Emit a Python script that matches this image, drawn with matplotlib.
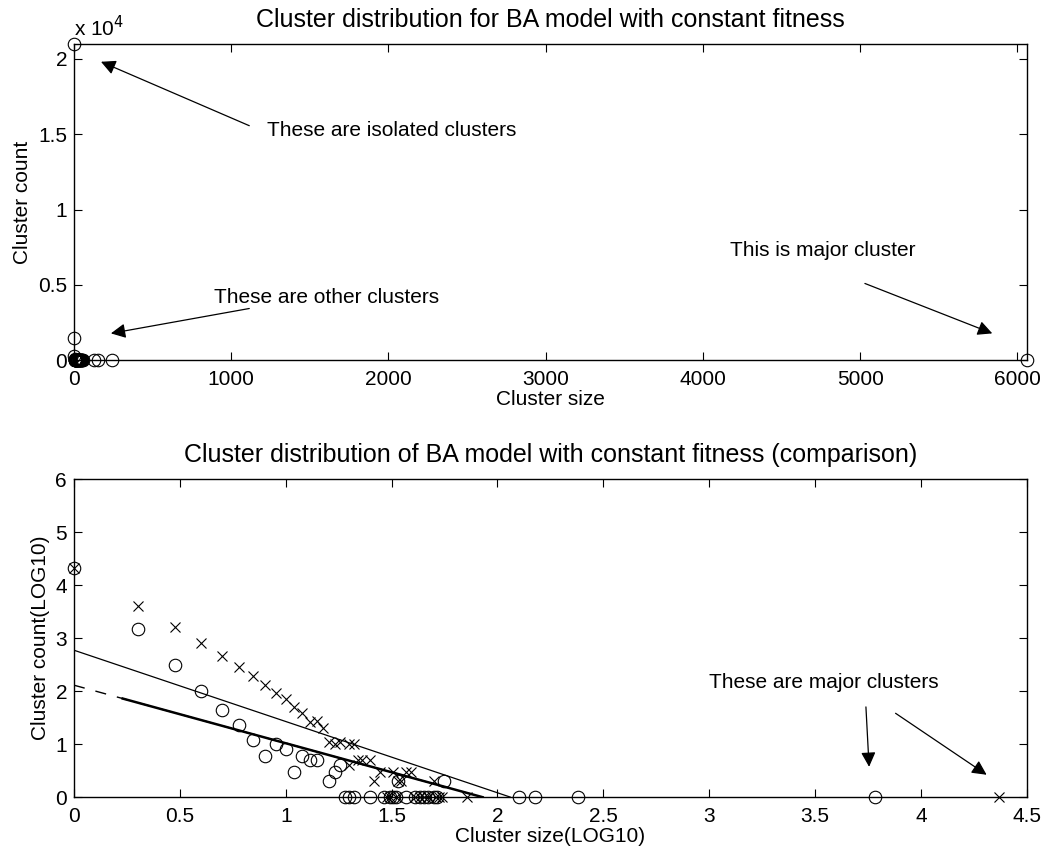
import numpy as np
import matplotlib
matplotlib.use('Agg')
import matplotlib.pyplot as plt

plt.rcParams['font.family'] = ['Liberation Sans', 'DejaVu Sans']
plt.rcParams['font.size'] = 15

# cluster sizes / counts for BA model with constant fitness
size_a = [1, 2, 3, 4, 5, 6, 7, 8, 9, 10, 11, 12, 13, 14, 16, 17, 18,
          19, 20, 21, 25, 29, 31, 32, 33, 34, 37, 41, 43, 45, 47, 50, 52, 56,
          126, 151, 240, 6060]
count_a = [21000, 1510, 316, 100, 43, 23, 12, 6, 10, 8, 3, 6, 5, 5, 2, 3, 4,
           1, 1, 1, 1, 1, 1, 1, 1, 2, 1, 1, 1, 1, 1, 1, 1, 2,
           1, 1, 1, 1]

# comparison run
size_b = [1, 2, 3, 4, 5, 6, 7, 8, 9, 10, 11, 12, 13, 14, 15, 16, 17, 18,
          20, 21, 20, 22, 23, 25, 26, 28, 32, 34, 35, 37, 39, 50,
          30, 31, 33, 41, 43, 45, 47, 51, 53, 55, 72, 23400]
count_b = [21000, 3980, 1585, 794, 457, 282, 190, 129, 91, 71, 50, 38, 26, 27, 20, 11, 10, 11,
           10, 10, 4, 5, 5, 5, 2, 3, 3, 2, 2, 3, 3, 2,
           1, 1, 1, 1, 1, 1, 1, 1, 1, 1, 1, 1]

# fitted lines (log10 space): intercept, slope, x range
fit1 = (2.77, -1.345, 0.0, 2.06)
fit2 = (2.11, -1.095, 0.0, 1.93)

x_a = np.log10(size_a)
y_a = np.log10(count_a)
x_b = np.log10(size_b)
y_b = np.log10(count_b)

fig = plt.figure(figsize=(10.46, 8.56), dpi=100)

# ---- top: linear scale
ax1 = fig.add_axes([0.0707, 0.579, 0.911, 0.370])
ax1.plot(size_a, count_a, 'ko', mfc='none', ms=9, mew=0.8, clip_on=False)
ax1.set_xlim(0, 6060)
ax1.set_ylim(0, 21000)
ax1.set_xticks(range(0, 7000, 1000))
ax1.set_yticks([0, 5000, 10000, 15000, 20000])
ax1.set_yticklabels(['0', '0.5', '1', '1.5', '2'])
ax1.text(0.0, 1.012, r'x 10$^4$', transform=ax1.transAxes, ha='left', va='bottom')
ax1.set_title('Cluster distribution for BA model with constant fitness', pad=12)
ax1.set_xlabel('Cluster size', labelpad=1)
ax1.set_ylabel('Cluster count', labelpad=4)

arrow = dict(arrowstyle='-|>', color='k', lw=0.9, mutation_scale=22, shrinkA=0, shrinkB=0)
ax1.annotate('', xy=(172, 19800), xytext=(1115, 15560), arrowprops=arrow)
ax1.text(1230, 15230, 'These are isolated clusters', va='center')
ax1.annotate('', xy=(235, 1790), xytext=(1115, 3440), arrowprops=arrow)
ax1.text(890, 4170, 'These are other clusters', va='center')
ax1.annotate('', xy=(5840, 1790), xytext=(5030, 5100), arrowprops=arrow)
ax1.text(4170, 7280, 'This is major cluster', va='center')

# ---- bottom: log-log comparison
ax2 = fig.add_axes([0.0707, 0.0689, 0.911, 0.3715])
ax2.plot(x_a, y_a, 'ko', mfc='none', ms=9, mew=0.8, clip_on=False)
ax2.plot(x_b, y_b, 'kx', ms=7, mew=0.8, clip_on=False)

xf = np.array(fit1[2:])
ax2.plot(xf, fit1[0] + fit1[1] * xf, 'k-', lw=0.9)
xf = np.array(fit2[2:])
ax2.plot(xf, fit2[0] + fit2[1] * xf, 'k--', lw=1.0, dashes=(8, 8))
xf = np.array([0.23, fit2[3]])
ax2.plot(xf, fit2[0] + fit2[1] * xf, 'k-', lw=1.8)

ax2.set_xlim(0, 4.5)
ax2.set_ylim(0, 6)
ax2.set_xticks(np.arange(0, 4.51, 0.5))
ax2.set_xticklabels(['0', '0.5', '1', '1.5', '2', '2.5', '3', '3.5', '4', '4.5'])
ax2.set_yticks(range(7))
ax2.set_title('Cluster distribution of BA model with constant fitness (comparison)', pad=12)
ax2.set_xlabel('Cluster size(LOG10)', labelpad=1)
ax2.set_ylabel('Cluster count(LOG10)', labelpad=4)

ax2.text(3.0, 2.17, 'These are major clusters', va='center')
ax2.annotate('', xy=(3.755, 0.57), xytext=(3.74, 1.70), arrowprops=arrow)
ax2.annotate('', xy=(4.31, 0.42), xytext=(3.88, 1.58), arrowprops=arrow)

for ax in (ax1, ax2):
    ax.tick_params(direction='in', top=True, right=True, length=6, width=0.8)
    ax.tick_params(axis='x', pad=7)
    ax.tick_params(axis='y', pad=5)
    for s in ax.spines.values():
        s.set_linewidth(1.0)

fig.savefig('out.png', dpi=100)
